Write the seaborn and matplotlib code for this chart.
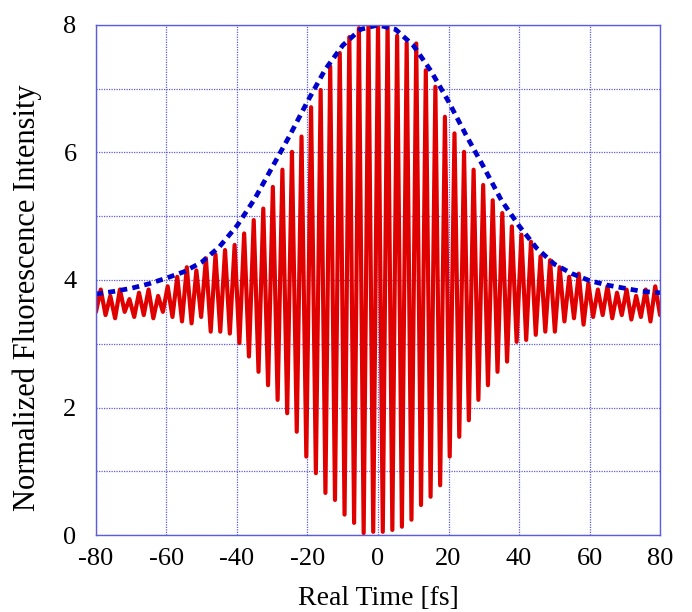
import numpy as np
import pandas as pd
import matplotlib
matplotlib.use('Agg')
import matplotlib.pyplot as plt
import seaborn as sns

# maxima of the fringe trace (left to right)
peaks = [3.85, 3.75, 3.85, 3.70, 3.80, 3.85, 3.75, 3.90, 4.05, 4.20,
         4.15, 4.34, 4.40, 4.47, 4.55, 4.73, 4.94, 5.12, 5.46, 5.73,
         6.01, 6.25, 6.71, 6.98, 7.35, 7.56, 7.81, 7.95, 7.98, 8.02,
         8.00, 7.83, 7.72, 7.71, 7.29, 7.03, 6.56, 6.30, 6.01, 5.73,
         5.49, 5.25, 5.05, 4.84, 4.71, 4.60, 4.37, 4.31, 4.20, 4.05,
         4.10, 3.95, 3.85, 3.90, 3.80, 3.85, 3.75, 3.85, 3.90]

# minima of the fringe trace
troughs = [3.50, 3.45, 3.40, 3.50, 3.42, 3.45, 3.40, 3.50, 3.42, 3.35,
           3.32, 3.42, 3.19, 3.19, 3.16, 3.01, 2.80, 2.56, 2.35, 2.12,
           1.91, 1.62, 1.23, 0.97, 0.66, 0.55, 0.32, 0.19, 0.03, 0.05,
           0.05, 0.08, 0.13, 0.24, 0.47, 0.60, 0.78, 1.23, 1.54, 1.80,
           2.12, 2.35, 2.56, 2.72, 3.03, 3.06, 3.14, 3.19, 3.19, 3.35,
           3.40, 3.30, 3.42, 3.45, 3.40, 3.45, 3.38, 3.42, 3.35, 3.45]

# upper envelope (blue dashed)
env_t = [-80, -75, -70, -65, -60, -55, -50, -45, -40, -35, -30, -25, -20,
         -15, -10, -5, 0, 5, 10, 15, 20, 25, 30, 35, 40, 45, 50, 55, 60,
         65, 70, 75, 80]
env_v = [3.78, 3.82, 3.87, 3.94, 4.03, 4.13, 4.28, 4.52, 4.85, 5.27, 5.77,
         6.27, 6.80, 7.30, 7.68, 7.93, 8.00, 7.93, 7.68, 7.28, 6.80, 6.27,
         5.77, 5.25, 4.85, 4.50, 4.25, 4.10, 3.99, 3.92, 3.87, 3.82, 3.80]

# interleave minima and maxima on an even delay grid
n = len(peaks) + len(troughs)
vals = np.empty(n)
vals[0::2] = troughs
vals[1::2] = peaks
trace = pd.DataFrame({'t': np.linspace(-80, 80, n), 'v': vals})
env = pd.DataFrame({'t': env_t, 'v': env_v})

sns.set_style('white')
plt.rcParams['font.family'] = ['Liberation Serif', 'DejaVu Serif']
plt.rcParams['axes.unicode_minus'] = False
plt.rcParams['text.color'] = 'black'
plt.rcParams['axes.labelcolor'] = 'black'
plt.rcParams['xtick.color'] = 'black'
plt.rcParams['ytick.color'] = 'black'

grid_col = '#5c5cdc'
fig = plt.figure(figsize=(6.92, 6.12), dpi=100)
ax = fig.add_axes([0.1387, 0.1258, 0.8151, 0.8334])

sns.lineplot(data=trace, x='t', y='v', ax=ax, color='#e00000', linewidth=3.0)
sns.lineplot(data=env, x='t', y='v', ax=ax, color='#0000cc', linewidth=3.4,
             linestyle=(0, (1.5, 1.1)))

ax.set_xlim(-80, 80)
ax.set_ylim(0, 8)
ax.set_xticks(range(-80, 81, 20))
ax.set_yticks(range(0, 9, 2))
ax.set_yticks(range(0, 9, 1), minor=True)
ax.grid(True, which='both', color=grid_col, linestyle=(0, (1, 1)), linewidth=0.9)
ax.set_axisbelow(True)
for s in ax.spines.values():
    s.set_color(grid_col)
    s.set_linewidth(1.0)
ax.tick_params(which='both', length=0, labelsize=19)
ax.tick_params(axis='x', pad=9)
ax.tick_params(axis='y', pad=14)

ax.set_xlabel('Real Time [fs]', fontsize=20, labelpad=12)
ax.set_ylabel('Normalized Fluorescence Intensity', fontsize=22)
ax.yaxis.set_label_coords(-0.095, 0.466)

plt.savefig('out.png', dpi=100)
